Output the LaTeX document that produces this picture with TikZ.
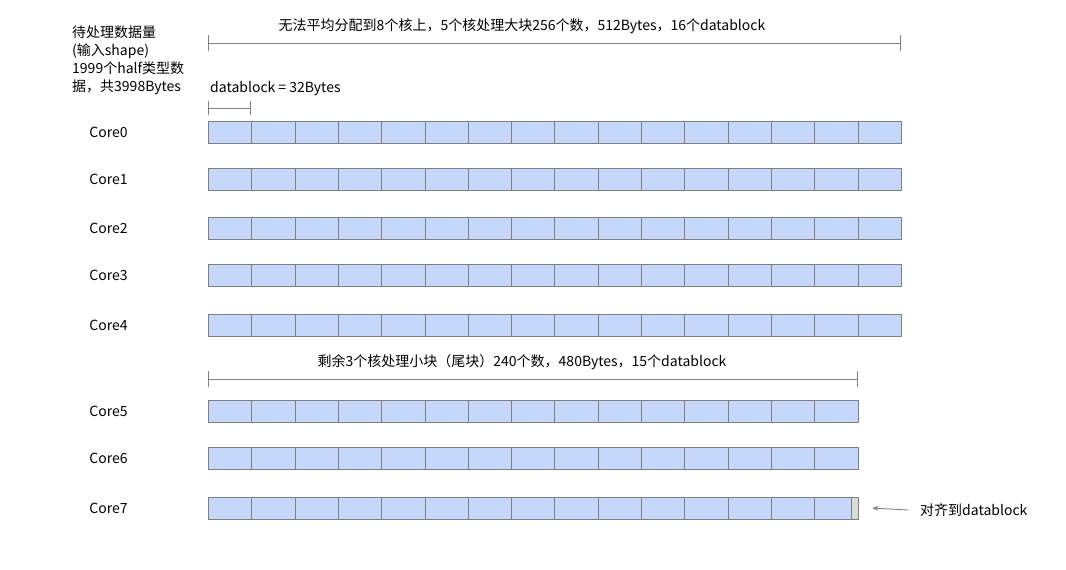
\documentclass[tikz,border=0pt]{standalone}
\usepackage{fontspec}
\setmainfont{Noto Sans CJK SC}
\usetikzlibrary{positioning}
\usetikzlibrary{arrows.meta}
\definecolor{cellblue}{HTML}{C5D7FB}
\definecolor{cellline}{HTML}{7F7F7F}
\definecolor{padgray}{HTML}{DADADA}
\definecolor{dimgray}{HTML}{808080}

\begin{document}
\begin{tikzpicture}[x=1pt, y=-1pt,
	cell/.style={draw=cellline, fill=cellblue, rectangle, minimum width=43.3pt, minimum height=22pt, anchor=west, inner sep=0pt, line width=0.8pt},
	txt/.style={font=\fontsize{14}{18}\selectfont, inner sep=0pt},
	dimline/.style={draw=dimgray, line width=0.9pt, {Bar[width=16pt]}-{Bar[width=16pt]}}]

	\useasboundingbox (0,0) rectangle (1066,570);

	\def\cellw{43.3}
	\def\xstart{208}

	% input description
	\node [txt, align=left, anchor=north west] at (72,26) (input){待处理数据量\\(输入shape)\\1999个half类型数\\据，共3998Bytes};

	% big blocks: Core0 ... Core4
	\foreach \core/\y in {0/132, 1/179, 2/228, 3/275, 4/325}
	{
		\node [txt] at (108.5,\y) (core\core){Core\core};
		\foreach \j in {1,...,16}
		{
			\node [cell] at ({\xstart+(\j-1)*\cellw},\y) (c\core-\j){};
		}
	}

	% tail blocks: Core5 ... Core7
	\foreach \core/\y in {5/411, 6/458, 7/508}
	{
		\node [txt] at (108.5,\y) (core\core){Core\core};
		\foreach \j in {1,...,15}
		{
			\node [cell] at ({\xstart+(\j-1)*\cellw},\y) (c\core-\j){};
		}
	}
	\node [draw=cellline, fill=padgray, rectangle, minimum width=7pt, minimum height=22pt, inner sep=0pt, line width=0.8pt, anchor=east] at (c7-15.east) (pad){};

	% dimension lines
	\coordinate (bigL) at (208,43);
	\coordinate (bigR) at (901,43);
	\draw [dimline] (bigL) -- (bigR);
	\node [txt] at (522,26) (bignote){无法平均分配到8个核上，5个核处理大块256个数，512Bytes，16个datablock};

	\coordinate (blkL) at (208,108);
	\coordinate (blkR) at (251,108);
	\draw [draw=dimgray, line width=0.9pt, {Bar[width=14pt]}-{Bar[width=14pt]}] (blkL) -- (blkR);
	\node [txt, anchor=west] at (210,89) (blknote){datablock = 32Bytes};

	\coordinate (tailL) at (208,379);
	\coordinate (tailR) at (858,379);
	\draw [dimline] (tailL) -- (tailR);
	\node [txt] at (522,362) (tailnote){剩余3个核处理小块（尾块）240个数，480Bytes，15个datablock};

	% alignment note
	\node [txt, anchor=west] at (920,510) (align){对齐到datablock};
	\draw [draw=dimgray, line width=0.9pt, -{Stealth[length=6pt, width=5pt]}] ([xshift=-12pt]align.west) -- ([xshift=14pt]c7-15.east);

\end{tikzpicture}
\end{document}
